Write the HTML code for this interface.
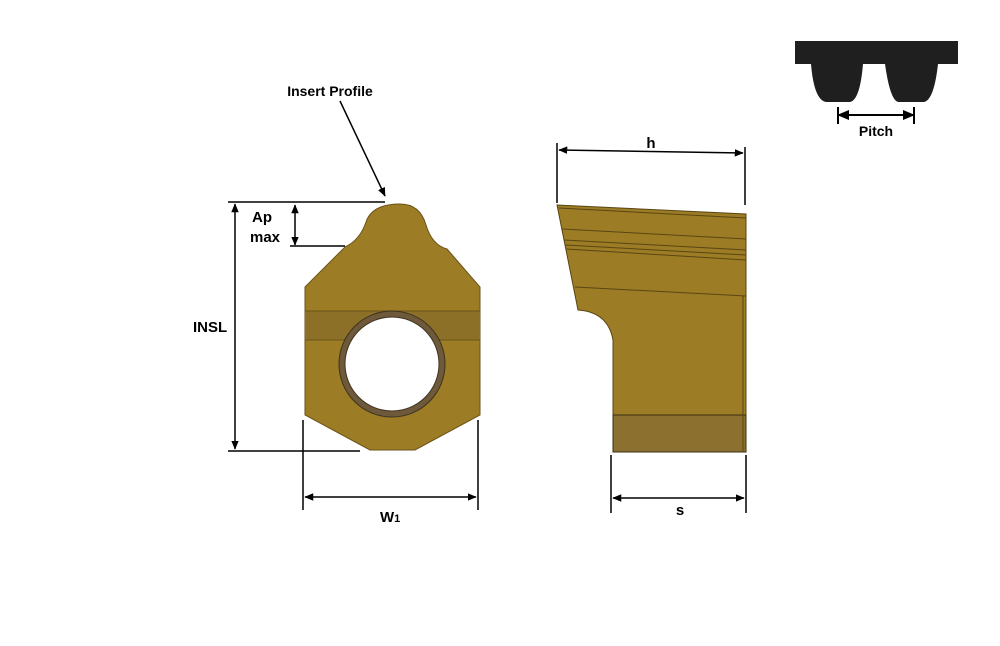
<!DOCTYPE html>
<html><head><style>body{margin:0;background:#fff}svg{display:block}text{font-family:"Liberation Sans",sans-serif;font-weight:bold;fill:#000}</style></head>
<body>
<svg width="1000" height="646" viewBox="0 0 1000 646">
<defs><marker id="a" markerWidth="6" markerHeight="6" refX="5.5" refY="3" orient="auto-start-reverse"><path d="M0,0.5 L6,3 L0,5.5z" fill="#000"/></marker></defs>
<!-- belt -->
<path d="M795,41 H958 V64 H938 Q934,100 924,102 H898 Q890,100 885,64 H863 Q860,100 850,102 H826 Q814,100 811,64 H795Z" fill="#1f1f1f"/>
<line x1="838" y1="115" x2="914" y2="115" stroke="#000" stroke-width="2" marker-start="url(#a)" marker-end="url(#a)"/>
<line x1="838" y1="107" x2="838" y2="124" stroke="#000" stroke-width="2"/>
<line x1="914" y1="107" x2="914" y2="124" stroke="#000" stroke-width="2"/>
<text x="876" y="136" font-size="14" text-anchor="middle">Pitch</text>
<!-- front view -->
<path d="M345,247 Q360,240 366,222 Q372,204 400,204 Q420,204 426,225 Q432,245 447,249 L480,287 V415 L415,450 H370 L305,415 V287 Z" fill="#9c7c24" stroke="#6a5318" stroke-width="1"/>
<rect x="305" y="311" width="175" height="29" fill="#8c7028"/>
<line x1="305" y1="311" x2="480" y2="311" stroke="#6a5318"/>
<line x1="305" y1="340" x2="480" y2="340" stroke="#6a5318"/>
<circle cx="392" cy="364" r="53" fill="#6e5a3a" stroke="#3f3320"/>
<circle cx="392" cy="364" r="47" fill="#fff" stroke="#3f3320"/>
<!-- dims front -->
<g stroke="#000" stroke-width="1.5" fill="none">
<line x1="228" y1="202" x2="385" y2="202"/>
<line x1="228" y1="451" x2="360" y2="451"/>
<line x1="235" y1="204" x2="235" y2="449" marker-start="url(#a)" marker-end="url(#a)"/>
<line x1="290" y1="246" x2="345" y2="246"/>
<line x1="295" y1="205" x2="295" y2="245" marker-start="url(#a)" marker-end="url(#a)"/>
<line x1="303" y1="420" x2="303" y2="510"/>
<line x1="478" y1="420" x2="478" y2="510"/>
<line x1="305" y1="497" x2="476" y2="497" marker-start="url(#a)" marker-end="url(#a)"/>
<line x1="340" y1="101" x2="385" y2="196" marker-end="url(#a)"/>
<line x1="557" y1="143" x2="557" y2="203"/>
<line x1="745" y1="147" x2="745" y2="205"/>
<line x1="559" y1="150" x2="743" y2="153" marker-start="url(#a)" marker-end="url(#a)"/>
<line x1="611" y1="455" x2="611" y2="513"/>
<line x1="746" y1="455" x2="746" y2="513"/>
<line x1="613" y1="498" x2="744" y2="498" marker-start="url(#a)" marker-end="url(#a)"/>
</g>
<text x="330" y="96" font-size="14" text-anchor="middle">Insert Profile</text>
<text x="252" y="222" font-size="15">Ap</text>
<text x="250" y="242" font-size="15">max</text>
<text x="193" y="332" font-size="15">INSL</text>
<text x="380" y="522" font-size="15">W<tspan font-size="11">1</tspan></text>
<text x="651" y="148" font-size="15" text-anchor="middle">h</text>
<text x="680" y="515" font-size="15" text-anchor="middle">s</text>
<!-- side view -->
<path d="M557,205 L746,214 V452 H613 V340 Q608,312 578,310 Z" fill="#9c7c24" stroke="#5a4614" stroke-width="1"/>
<rect x="613" y="415" width="133" height="37" fill="#8c7030" stroke="#3a2e10"/>
<g stroke="#5a4614" stroke-width="1">
<line x1="559" y1="208" x2="746" y2="218"/>
<line x1="562" y1="229" x2="746" y2="239"/>
<line x1="564" y1="240" x2="746" y2="250"/>
<line x1="565" y1="245" x2="746" y2="255"/>
<line x1="566" y1="249" x2="746" y2="260"/>
<line x1="575" y1="287" x2="746" y2="296"/>
<line x1="743" y1="296" x2="743" y2="452"/>
</g>
</svg>
</body></html>
